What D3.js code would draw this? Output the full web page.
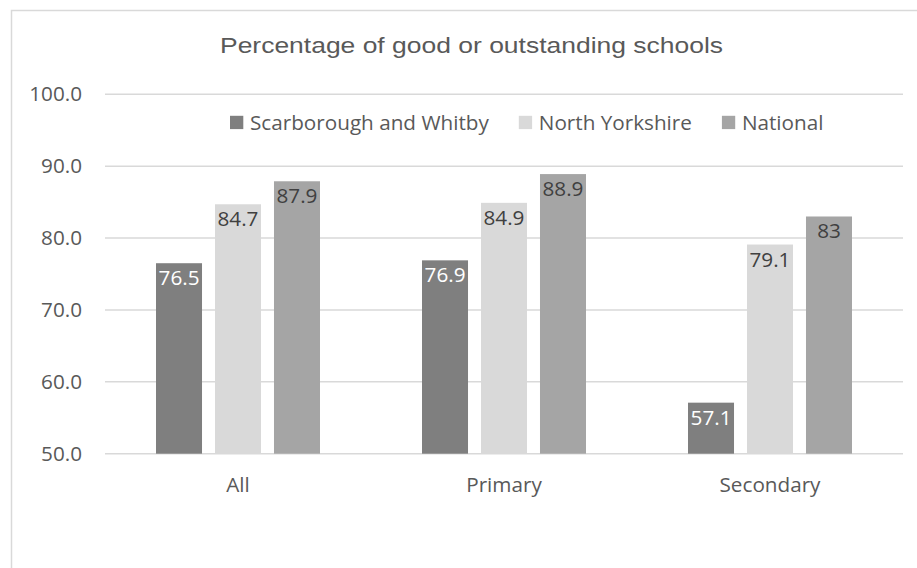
<!DOCTYPE html>
<html>
<head>
<meta charset="utf-8">
<script src="https://cdn.jsdelivr.net/npm/d3@7/dist/d3.min.js"></script>
<style>
  body { margin: 0; background: #fff; }
  text { font-family: "Open Sans", sans-serif; }
</style>
</head>
<body>
<div id="chart"></div>
<script>
var svgWidth = 917;
var svgHeight = 568;

// chart data
var categories = ["All", "Primary", "Secondary"];
var seriesNames = ["Scarborough and Whitby", "North Yorkshire", "National"];
var scarboroughValues = [76.5, 76.9, 57.1];
var northYorkshireValues = [84.7, 84.9, 79.1];
var nationalValues = [87.9, 88.9, 83];
var yTicks = [50, 60, 70, 80, 90, 100];
var chartTitle = "Percentage of good or outstanding schools";

var seriesValues = [scarboroughValues, northYorkshireValues, nationalValues];
var colors = ["#7f7f7f", "#d9d9d9", "#a5a5a5"];
var labelColors = ["#ffffff", "#404040", "#404040"];

var plot = { left: 105, right: 903, top: 94.3, bottom: 453.7 };

var svg = d3.select("#chart")
  .append("svg")
  .attr("width", svgWidth)
  .attr("height", svgHeight);

// chart area border (cropped on the right and bottom)
svg.append("path")
  .attr("d", "M11.5," + svgHeight + "V10.5H" + svgWidth)
  .attr("fill", "none")
  .attr("stroke", "#d9d9d9")
  .attr("stroke-width", 1.5);

// title
svg.append("text")
  .attr("x", 220)
  .attr("y", 52.7)
  .attr("textLength", 503)
  .attr("lengthAdjust", "spacingAndGlyphs")
  .style("font-family", "'Liberation Sans', Arial, sans-serif")
  .style("font-size", "21.5px")
  .attr("fill", "#595959")
  .text(chartTitle);

// scales
var x0 = d3.scaleBand()
  .domain(categories)
  .range([plot.left, plot.right])
  .paddingInner(0.3835)
  .paddingOuter(0.3835 / 2);

var x1 = d3.scaleBand()
  .domain(seriesNames)
  .range([0, x0.bandwidth()])
  .paddingInner(0.22);

var y = d3.scaleLinear()
  .domain([50, 100])
  .range([plot.bottom, plot.top]);

// gridlines
svg.append("g")
  .selectAll("line")
  .data(yTicks)
  .enter()
  .append("line")
  .attr("x1", plot.left)
  .attr("x2", plot.right)
  .attr("y1", d => y(d))
  .attr("y2", d => y(d))
  .attr("stroke", "#d9d9d9")
  .attr("stroke-width", 1.5);

// y axis labels
var leftAxis = d3.axisLeft(y)
  .tickValues(yTicks)
  .tickFormat(d3.format(".1f"))
  .tickSize(0)
  .tickPadding(0);

var yAxis = svg.append("g")
  .attr("transform", "translate(82,0)")
  .call(leftAxis);
yAxis.select(".domain").remove();
yAxis.selectAll("text")
  .attr("fill", "#595959")
  .style("font-family", "'Open Sans', sans-serif")
  .style("font-size", "20.7px");

// x axis labels
var bottomAxis = d3.axisBottom(x0).tickSize(0).tickPadding(0);
var xAxis = svg.append("g")
  .attr("transform", "translate(0," + plot.bottom + ")")
  .call(bottomAxis);
xAxis.select(".domain").remove();
xAxis.selectAll("text")
  .attr("dy", null)
  .attr("y", 38)
  .attr("fill", "#595959")
  .style("font-family", "'Open Sans', sans-serif")
  .style("font-size", "20.7px");

// bars
var rows = [];
categories.forEach(function(c, i) {
  seriesNames.forEach(function(s, j) {
    rows.push({ cat: c, series: s, idx: j, value: seriesValues[j][i] });
  });
});

var barGroup = svg.append("g");
barGroup.selectAll("rect")
  .data(rows)
  .enter()
  .append("rect")
  .attr("x", d => x0(d.cat) + x1(d.series))
  .attr("y", d => y(d.value))
  .attr("width", x1.bandwidth())
  .attr("height", d => y(50) - y(d.value))
  .attr("fill", d => colors[d.idx]);

// data labels, inside end
barGroup.selectAll("text")
  .data(rows)
  .enter()
  .append("text")
  .attr("x", d => x0(d.cat) + x1(d.series) + x1.bandwidth() / 2)
  .attr("y", d => y(d.value) + 22)
  .attr("text-anchor", "middle")
  .attr("fill", d => labelColors[d.idx])
  .style("font-size", "20.7px")
  .text(d => String(d.value));

// legend
var legend = svg.append("g");
var lx = 230;
seriesNames.forEach(function(s, j) {
  legend.append("rect")
    .attr("x", lx)
    .attr("y", 115.8)
    .attr("width", 13.3)
    .attr("height", 13.3)
    .attr("fill", colors[j]);
  var t = legend.append("text")
    .attr("x", lx + 20)
    .attr("y", 130)
    .attr("fill", "#595959")
    .style("font-size", "20.7px")
    .text(s);
  lx = lx + 20 + t.node().getComputedTextLength() + 30;
});
</script>
</body>
</html>
